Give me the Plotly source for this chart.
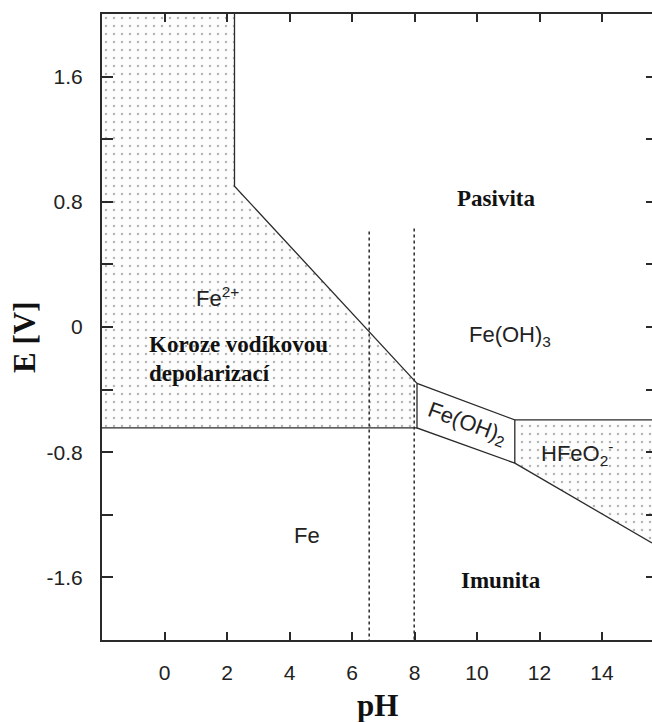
import plotly.graph_objects as go

# ---- data (pH, E [V]) ----
# Fe2+ (corrosion) region polygon
fe2_ph = [-2.0, 2.24, 2.24, 8.08, 8.08, -2.0]
fe2_E = [2.0, 2.0, 0.90, -0.36, -0.645, -0.645]

# HFeO2- region polygon
hfeo2_ph = [11.21, 15.6, 15.6, 11.21]
hfeo2_E = [-0.594, -0.594, -1.38, -0.87]

# boundary lines
b1_ph = [2.24, 2.24, 8.08]
b1_E = [2.0, 0.90, -0.36]
b2_ph = [-2.0, 8.08]
b2_E = [-0.645, -0.645]
box_ph = [8.08, 11.21, 11.21, 8.08, 8.08]
box_E = [-0.36, -0.594, -0.87, -0.645, -0.36]
b3_ph = [11.21, 15.6]
b3_E = [-0.594, -0.594]
b4_ph = [11.21, 15.6]
b4_E = [-0.87, -1.38]

# dotted verticals
dot1_ph = [6.55, 6.55]
dot1_E = [0.61, -2.0]
dot2_ph = [7.99, 7.99]
dot2_E = [0.63, -2.0]

# axis ticks
x_ticks = [0, 2, 4, 6, 8, 10, 12, 14]
y_ticks = [-1.6, -0.8, 0.0, 0.8, 1.6]
y_ticktext = ["-1.6", "-0.8", "0", "0.8", "1.6"]
y_all_ticks = [-1.6, -1.2, -0.8, -0.4, 0.0, 0.4, 0.8, 1.2, 1.6]

# labels
sans_labels = [
    ("Fe<sup>2+</sup>", 1.7, 0.19, 0),
    ("Fe(OH)<sub>3</sub>", 11.05, -0.06, 0),
    ("Fe(OH)<sub>2</sub>", 9.68, -0.62, 20),
    ("HFeO<sub>2</sub><sup>-</sup>", 13.2, -0.81, 0),
    ("Fe", 4.57, -1.33, 0),
]
serif_labels = [
    ("Pasivita", 10.6, 0.82, "center"),
    ("Imunita", 10.77, -1.62, "center"),
    ("Koroze vodíkovou", -0.55, -0.11, "left"),
    ("depolarizací", -0.55, -0.295, "left"),
]

LINE = "#2a2a2a"
SANS = "Liberation Sans, Arial, sans-serif"
SERIF = "Liberation Serif, Times New Roman, serif"

fig = go.Figure()

pattern = dict(shape=".", size=8, solidity=0.08, fgcolor="#707070", bgcolor="#fdfdfd")
fig.add_trace(go.Scatter(x=fe2_ph, y=fe2_E, fill="toself", mode="none",
                         fillcolor="#fdfdfd", fillpattern=pattern, hoverinfo="skip"))
fig.add_trace(go.Scatter(x=hfeo2_ph, y=hfeo2_E, fill="toself", mode="none",
                         fillcolor="#fdfdfd", fillpattern=pattern, hoverinfo="skip"))

for xs, ys in [(b1_ph, b1_E), (b2_ph, b2_E), (box_ph, box_E), (b4_ph, b4_E)]:
    fig.add_trace(go.Scatter(x=xs, y=ys, mode="lines",
                             line=dict(color=LINE, width=1.3), hoverinfo="skip"))
# this one on the right-hand tick axis (same range) so that axis is drawn
fig.add_trace(go.Scatter(x=b3_ph, y=b3_E, mode="lines", yaxis="y2",
                         line=dict(color=LINE, width=1.3), hoverinfo="skip"))

for xs, ys in [(dot1_ph, dot1_E), (dot2_ph, dot2_E)]:
    fig.add_trace(go.Scatter(x=xs, y=ys, mode="lines",
                             line=dict(color=LINE, width=1.5, dash="dot"), hoverinfo="skip"))

annotations = []
for txt, x, y, ang in sans_labels:
    annotations.append(dict(text=txt, x=x, y=y, xref="x", yref="y", showarrow=False,
                            textangle=ang, font=dict(family=SANS, size=22, color="#222")))
for txt, x, y, anchor in serif_labels:
    annotations.append(dict(text="<b>" + txt + "</b>", x=x, y=y, xref="x", yref="y",
                            showarrow=False, xanchor=anchor,
                            font=dict(family=SERIF, size=23, color="#111")))
annotations.append(dict(text="<b>pH</b>", x=0.5, y=-0.105, xref="paper", yref="paper",
                        showarrow=False, yanchor="middle",
                        font=dict(family=SERIF, size=31, color="#111")))
annotations.append(dict(text="<b>E [V]</b>", x=-0.142, y=0.484, xref="paper", yref="paper",
                        showarrow=False, textangle=-90, xanchor="center", yanchor="middle",
                        font=dict(family=SERIF, size=31, color="#111")))

fig.update_layout(
    width=652, height=722,
    margin=dict(l=102, r=0, t=14, b=82),
    paper_bgcolor="white", plot_bgcolor="white",
    showlegend=False,
    annotations=annotations,
    xaxis=dict(range=[-2, 15.6], tickvals=x_ticks, ticks="inside", ticklen=8, tickwidth=1.5,
               tickcolor=LINE, showline=True, linecolor=LINE, linewidth=2, mirror="ticks",
               showgrid=False, zeroline=False, ticklabelstandoff=13,
               tickfont=dict(family=SANS, size=21, color="#222")),
    yaxis=dict(range=[-2, 2], tickvals=y_ticks, ticktext=y_ticktext, ticks="inside",
               ticklen=11, tickwidth=1.5, tickcolor=LINE, showline=True, linecolor=LINE,
               linewidth=2, mirror=False, showgrid=False, zeroline=False,
               minor=dict(ticks="inside", ticklen=11, tickwidth=1.5, tickcolor=LINE,
                          tick0=0, dtick=0.4, showgrid=False),
               ticklabelstandoff=13, tickfont=dict(family=SANS, size=21, color="#222")),
    yaxis2=dict(range=[-2, 2], overlaying="y", side="right", tickvals=y_all_ticks,
                ticks="inside", ticklen=6, tickwidth=1.5, tickcolor=LINE,
                showline=False, showgrid=False, zeroline=False, showticklabels=False),
)

fig.write_html("out.html")
